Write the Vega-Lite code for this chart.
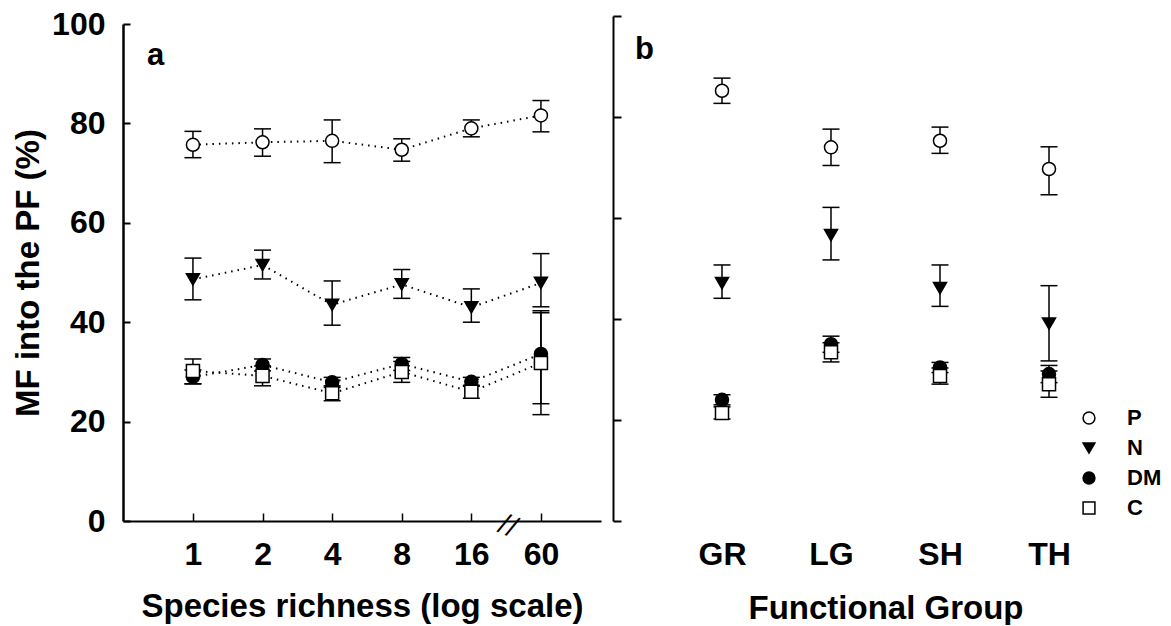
{
  "$schema": "https://vega.github.io/schema/vega-lite/v6.json",
  "padding": {"left": 12, "top": 8, "right": 0, "bottom": 0},
  "background": "white",
  "config": {
    "view": {"stroke": null},
    "font": "Liberation Sans",
    "axis": {"labelFont": "Liberation Sans", "titleFont": "Liberation Sans", "labelFontWeight": "bold", "titleFontWeight": "bold", "labelColor": "black", "titleColor": "black", "domainColor": "black", "tickColor": "black", "grid": false, "labelFontSize": 32, "titleFontSize": 33},
    "legend": {"labelFont": "Liberation Sans", "labelFontWeight": "bold", "labelColor": "black", "labelFontSize": 22}
  },
  "datasets": {
    "a": [
      {"richness": 1, "series": "P", "mean": 75.7, "lo": 73.1, "hi": 78.4},
      {"richness": 2, "series": "P", "mean": 76.2, "lo": 73.4, "hi": 78.9},
      {"richness": 4, "series": "P", "mean": 76.5, "lo": 72.1, "hi": 80.7},
      {"richness": 8, "series": "P", "mean": 74.7, "lo": 72.4, "hi": 76.9},
      {"richness": 16, "series": "P", "mean": 79.0, "lo": 77.3, "hi": 80.7},
      {"richness": 60, "series": "P", "mean": 81.6, "lo": 78.3, "hi": 84.6},
      {"richness": 1, "series": "N", "mean": 48.6, "lo": 44.5, "hi": 52.9},
      {"richness": 2, "series": "N", "mean": 51.5, "lo": 48.7, "hi": 54.5},
      {"richness": 4, "series": "N", "mean": 43.5, "lo": 39.4, "hi": 48.3},
      {"richness": 8, "series": "N", "mean": 47.6, "lo": 44.8, "hi": 50.6},
      {"richness": 16, "series": "N", "mean": 43.0, "lo": 40.0, "hi": 46.7},
      {"richness": 60, "series": "N", "mean": 47.9, "lo": 43.1, "hi": 53.8},
      {"richness": 1, "series": "DM", "mean": 29.0, "lo": 27.6, "hi": 30.4},
      {"richness": 2, "series": "DM", "mean": 31.4, "lo": 30.2, "hi": 32.6},
      {"richness": 4, "series": "DM", "mean": 27.9, "lo": 26.9, "hi": 28.9},
      {"richness": 8, "series": "DM", "mean": 31.6, "lo": 30.3, "hi": 32.9},
      {"richness": 16, "series": "DM", "mean": 28.0, "lo": 27.1, "hi": 28.9},
      {"richness": 60, "series": "DM", "mean": 33.6, "lo": 23.6, "hi": 41.9},
      {"richness": 1, "series": "C", "mean": 30.2, "lo": 27.6, "hi": 32.6},
      {"richness": 2, "series": "C", "mean": 29.2, "lo": 27.2, "hi": 31.2},
      {"richness": 4, "series": "C", "mean": 25.7, "lo": 24.2, "hi": 27.2},
      {"richness": 8, "series": "C", "mean": 30.0, "lo": 27.9, "hi": 32.1},
      {"richness": 16, "series": "C", "mean": 26.0, "lo": 24.7, "hi": 27.3},
      {"richness": 60, "series": "C", "mean": 31.8, "lo": 21.4, "hi": 42.3}
    ],
    "b": [
      {"group": "GR", "series": "P", "mean": 85.2, "lo": 82.7, "hi": 87.7},
      {"group": "LG", "series": "P", "mean": 74.0, "lo": 70.4, "hi": 77.6},
      {"group": "SH", "series": "P", "mean": 75.3, "lo": 72.8, "hi": 78.0},
      {"group": "TH", "series": "P", "mean": 69.7, "lo": 64.6, "hi": 74.1},
      {"group": "GR", "series": "N", "mean": 47.1, "lo": 44.1, "hi": 50.7},
      {"group": "LG", "series": "N", "mean": 56.6, "lo": 51.7, "hi": 62.1},
      {"group": "SH", "series": "N", "mean": 46.1, "lo": 42.5, "hi": 50.7},
      {"group": "TH", "series": "N", "mean": 39.1, "lo": 31.7, "hi": 46.6},
      {"group": "GR", "series": "DM", "mean": 24.0, "lo": 23.0, "hi": 25.0},
      {"group": "LG", "series": "DM", "mean": 35.0, "lo": 33.4, "hi": 36.6},
      {"group": "SH", "series": "DM", "mean": 30.4, "lo": 29.4, "hi": 31.4},
      {"group": "TH", "series": "DM", "mean": 29.1, "lo": 27.4, "hi": 30.8},
      {"group": "GR", "series": "C", "mean": 21.4, "lo": 20.2, "hi": 22.6},
      {"group": "LG", "series": "C", "mean": 33.4, "lo": 31.5, "hi": 35.3},
      {"group": "SH", "series": "C", "mean": 28.7, "lo": 27.1, "hi": 30.3},
      {"group": "TH", "series": "C", "mean": 27.1, "lo": 24.5, "hi": 29.7}
    ],
    "brk": [{"label": "//"}]
  },
  "resolve": {"legend": {"shape": "independent", "fill": "independent"}},
  "spacing": 11,
  "hconcat": [
    {
      "width": 478,
      "height": 505,
      "title": {"text": "a", "anchor": "start", "frame": "group", "offset": -64, "dx": 24, "fontSize": 31, "font": "Liberation Sans", "fontWeight": "bold", "color": "black"},
      "data": {"name": "a"},
      "encoding": {
        "x": {"field": "richness", "type": "ordinal", "sort": [1, 2, 4, 8, 16, 60],
          "scale": {"type": "point", "padding": 0.934, "align": 0.538},
          "axis": {"title": "Species richness (log scale)", "labelAngle": 0, "domainWidth": 2, "tickSize": -8, "tickWidth": 1.5, "labelPadding": 26, "titlePadding": 20}}
      },
      "layer": [
        {
          "mark": {"type": "line", "color": "black", "strokeWidth": 2, "strokeDash": [1.5, 5]},
          "encoding": {
            "y": {"field": "mean", "type": "quantitative", "scale": {"domain": [0, 100], "range": [505, 8], "nice": false},
              "axis": {"title": "MF into the PF (%)", "values": [0, 20, 40, 60, 80, 100], "domainWidth": 2.5, "tickSize": -7, "tickWidth": 2, "labelPadding": 25, "titlePadding": 6}},
            "detail": {"field": "series"}
          }
        },
        {
          "mark": {"type": "rule", "color": "black", "strokeWidth": 1.5},
          "encoding": {"y": {"field": "lo", "type": "quantitative"}, "y2": {"field": "hi"}}
        },
        {
          "mark": {"type": "tick", "color": "black", "thickness": 1.5, "size": 17, "opacity": 1},
          "encoding": {"y": {"field": "lo", "type": "quantitative"}}
        },
        {
          "mark": {"type": "tick", "color": "black", "thickness": 1.5, "size": 17, "opacity": 1},
          "encoding": {"y": {"field": "hi", "type": "quantitative"}}
        },
        {
          "mark": {"type": "point", "filled": true, "stroke": "black", "strokeWidth": 1.5, "size": 170, "opacity": 1},
          "encoding": {
            "y": {"field": "mean", "type": "quantitative"},
            "shape": {"field": "series", "type": "nominal", "scale": {"domain": ["P", "N", "DM", "C"], "range": ["circle", "triangle-down", "circle", "square"]}, "legend": null},
            "fill": {"field": "series", "type": "nominal", "scale": {"domain": ["P", "N", "DM", "C"], "range": ["white", "black", "black", "white"]}, "legend": null}
          }
        },
        {
          "data": {"name": "brk"},
          "mark": {"type": "text", "fontSize": 26, "font": "DejaVu Sans", "fontWeight": "normal", "color": "black", "dx": 36, "dy": -10, "angle": 22, "baseline": "middle", "align": "center"},
          "encoding": {"x": {"datum": 16}, "y": {"datum": 0}, "text": {"field": "label"}}
        }
      ]
    },
    {
      "width": 545,
      "height": 505,
      "title": {"text": "b", "anchor": "start", "frame": "group", "offset": -51, "dx": 22, "fontSize": 31, "font": "Liberation Sans", "fontWeight": "bold", "color": "black"},
      "data": {"name": "b"},
      "encoding": {
        "x": {"field": "group", "type": "nominal", "sort": ["GR", "LG", "SH", "TH"],
          "scale": {"type": "point", "padding": 1.0, "align": 0.5},
          "axis": {"title": "Functional Group", "labelAngle": 0, "domain": false, "ticks": false, "labelPadding": 18, "titlePadding": 22}}
      },
      "layer": [
        {
          "mark": {"type": "rule", "color": "black", "strokeWidth": 1.5},
          "encoding": {
            "y": {"field": "lo", "type": "quantitative", "scale": {"domain": [0, 100], "nice": false},
              "axis": {"title": null, "labels": false, "values": [0, 20, 40, 60, 80, 100], "domainWidth": 2, "tickSize": -8, "tickWidth": 2}},
            "y2": {"field": "hi"}
          }
        },
        {
          "mark": {"type": "tick", "color": "black", "thickness": 1.5, "size": 17, "opacity": 1},
          "encoding": {"y": {"field": "lo", "type": "quantitative"}}
        },
        {
          "mark": {"type": "tick", "color": "black", "thickness": 1.5, "size": 17, "opacity": 1},
          "encoding": {"y": {"field": "hi", "type": "quantitative"}}
        },
        {
          "mark": {"type": "point", "filled": true, "stroke": "black", "strokeWidth": 1.5, "size": 170, "opacity": 1},
          "encoding": {
            "y": {"field": "mean", "type": "quantitative"},
            "shape": {"field": "series", "type": "nominal", "scale": {"domain": ["P", "N", "DM", "C"], "range": ["circle", "triangle-down", "circle", "square"]},
              "legend": {"title": null, "orient": "none", "legendX": 465, "legendY": 391, "symbolSize": 140, "labelOffset": 27, "rowPadding": 8, "labelFontSize": 22,
                "encode": {"symbols": {"update": {"stroke": {"value": "black"}, "strokeWidth": {"value": 1.5}}}}}},
            "fill": {"field": "series", "type": "nominal", "scale": {"domain": ["P", "N", "DM", "C"], "range": ["white", "black", "black", "white"]},
              "legend": {"title": null, "orient": "none", "legendX": 465, "legendY": 391, "symbolSize": 140, "labelOffset": 27, "rowPadding": 8, "labelFontSize": 22,
                "encode": {"symbols": {"update": {"stroke": {"value": "black"}, "strokeWidth": {"value": 1.5}}}}}}
          }
        }
      ]
    }
  ]
}
